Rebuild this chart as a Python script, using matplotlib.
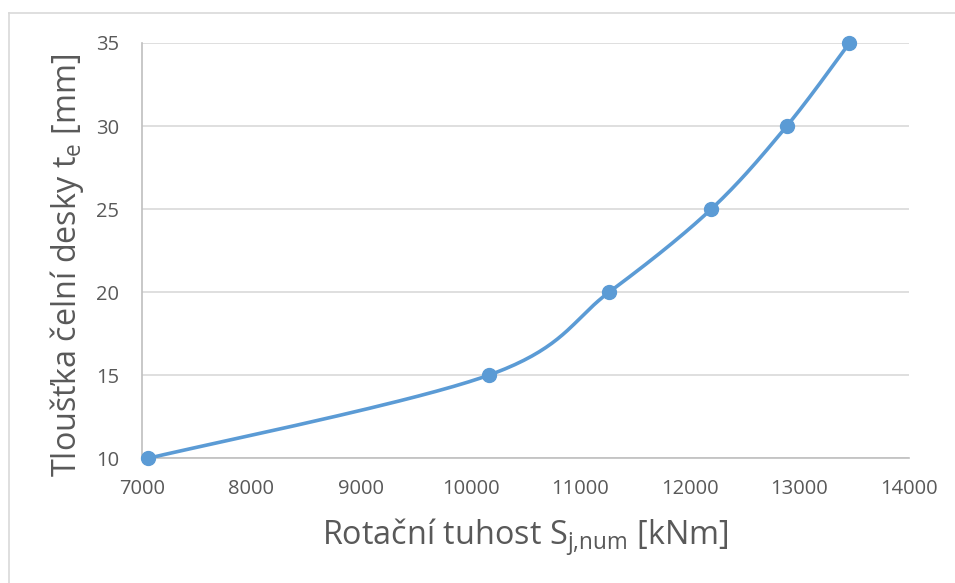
import numpy as np
import matplotlib
matplotlib.use("Agg")
import matplotlib.pyplot as plt
from matplotlib.lines import Line2D

# Data
stiffness = [7060, 10165, 11264, 12196, 12885, 13457]
thickness = [10, 15, 20, 25, 30, 35]
x_ticks = [7000, 8000, 9000, 10000, 11000, 12000, 13000, 14000]
y_ticks = [10, 15, 20, 25, 30, 35]

plt.rcParams['font.family'] = ['Open Sans', 'DejaVu Sans']
plt.rcParams['mathtext.fontset'] = 'custom'
plt.rcParams['mathtext.rm'] = 'Open Sans'

def smooth(xs, ys, n=40):
    P = np.column_stack([xs, ys]).astype(float)
    ext = np.vstack([P[0], P, P[-1]])
    out = []
    for i in range(len(P) - 1):
        p0, p1, p2, p3 = ext[i], ext[i + 1], ext[i + 2], ext[i + 3]
        c1 = p1 + (p2 - p0) / 6.0
        c2 = p2 - (p3 - p1) / 6.0
        t = np.linspace(0, 1, n)[:, None]
        b = ((1 - t) ** 3) * p1 + 3 * ((1 - t) ** 2) * t * c1 + 3 * (1 - t) * t ** 2 * c2 + t ** 3 * p2
        out.append(b if i == 0 else b[1:])
    B = np.vstack(out)
    return B[:, 0], B[:, 1]

W, H = 955, 583
fig = plt.figure(figsize=(W / 100, H / 100), dpi=100)
border = '#D9D9D9'
fig.add_artist(Line2D([8.5 / W, 1.0], [1 - 13 / H, 1 - 13 / H], transform=fig.transFigure,
                      color=border, linewidth=1.2))
fig.add_artist(Line2D([8.5 / W, 8.5 / W], [0.0, 1 - 13 / H], transform=fig.transFigure,
                      color=border, linewidth=1.2))

ax = fig.add_axes([141.7 / W, 1 - 458.3 / H, (909 - 141.7) / W, (458.3 - 43) / H])

sx, sy = smooth(stiffness, thickness)
ax.plot(sx, sy, color='#5B9BD5', linewidth=2.6, solid_capstyle='round', zorder=3)
ax.plot(stiffness, thickness, linestyle='none', marker='o', markersize=10,
        color='#5B9BD5', zorder=4, clip_on=False)

ax.set_xlim(7000, 14000)
ax.set_ylim(10, 35)
ax.set_xticks(x_ticks)
ax.set_yticks(y_ticks)
ax.tick_params(axis='both', length=0, labelsize=14.5, labelcolor='#595959')
ax.tick_params(axis='x', pad=15)
ax.tick_params(axis='y', pad=16)
ax.grid(axis='y', color='#D9D9D9', linewidth=1.2)
ax.set_axisbelow(True)
for s in ['top', 'right']:
    ax.spines[s].set_visible(False)
for s in ['left', 'bottom']:
    ax.spines[s].set_color('#BFBFBF')
    ax.spines[s].set_linewidth(1.2)

fig.text(525 / W, 1 - 537 / H, 'Rotační tuhost S$_{\\mathregular{j{,}num}}$ [kNm]',
         fontsize=23.3, color='#595959', ha='center', va='center')
fig.text(67 / W, 1 - 265 / H, 'Tloušťka čelní desky t$_{\\mathregular{e}}$ [mm]',
         fontsize=23.3, color='#595959', ha='center', va='center', rotation=90)

fig.savefig('out.png', dpi=100)
